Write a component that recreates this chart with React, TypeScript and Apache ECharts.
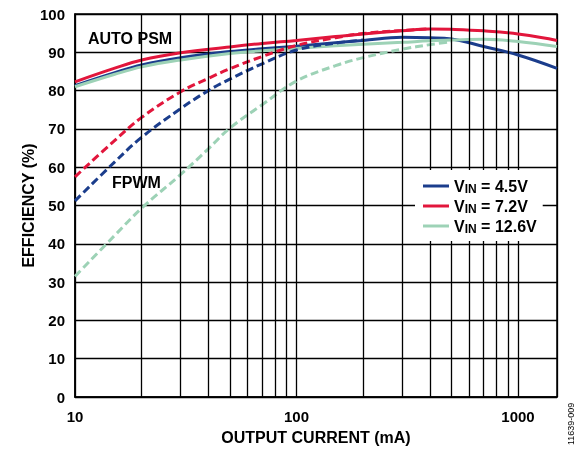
import React, { useEffect, useRef } from "react";
import * as echarts from "echarts";

// Output current (mA) sample points and efficiency (%) values
const psmCurrent = [10, 15, 20, 30, 50, 70, 100, 150, 200, 300, 400, 500, 700, 1000, 1500];
const psm45 = [81.3, 84.6, 86.7, 88.6, 90.2, 90.9, 91.6, 92.5, 93.1, 93.9, 93.8, 93.5, 91.5, 89.3, 85.8];
const psm72 = [82.3, 85.8, 88.0, 89.9, 91.4, 92.3, 93.1, 94.1, 94.8, 95.6, 96.1, 96.0, 95.6, 94.8, 93.1];
const psm126 = [81.0, 84.2, 86.2, 88.0, 89.7, 90.4, 91.0, 91.7, 92.1, 92.6, 93.0, 93.2, 93.4, 92.8, 91.5];

const fpwm45Current = [10, 15, 20, 30, 40, 50, 70, 100, 150, 200];
const fpwm45 = [51.2, 61.2, 67.8, 75.3, 80.0, 83.0, 87.0, 90.6, 92.4, 93.2];
const fpwm72Current = [10, 15, 20, 30, 40, 50, 70, 100, 150, 200, 300, 400];
const fpwm72 = [57.5, 66.8, 73.0, 79.7, 83.2, 85.7, 88.9, 91.8, 93.8, 94.9, 95.7, 96.1];
const fpwm126Current = [10, 15, 20, 30, 40, 50, 70, 100, 150, 200, 300, 400, 500];
const fpwm126 = [31.5, 42.0, 49.3, 58.1, 64.8, 70.2, 76.3, 82.5, 86.5, 88.6, 90.8, 92.0, 92.8];

const minorGrid = [20, 30, 40, 50, 60, 70, 80, 90, 200, 300, 400, 500, 600, 700, 800, 900];
const xTickLabels = [10, 100, 1000];
const vinLabels = ["4.5", "7.2", "12.6"];

const BLUE = "#1b3d8c";
const RED = "#e2163c";
const GREEN = "#9dd2b6";
const FONT = "Arial, 'Liberation Sans', Helvetica, sans-serif";

const pairs = (xs: number[], ys: number[]) => xs.map((x, i) => [x, ys[i]]);

export default function App() {
  const ref = useRef<HTMLDivElement>(null);
  useEffect(() => {
    if (!ref.current) return;
    const chart = echarts.init(ref.current, undefined, { renderer: "svg" });
    const names = vinLabels.map((v) => `VIN = ${v}V`);
    const solid = (name: string, color: string, ys: number[]) => ({
      name,
      type: "line",
      data: pairs(psmCurrent, ys),
      smooth: 0.4,
      showSymbol: false,
      symbol: "none",
      z: 3,
      lineStyle: { color, width: 3 },
      itemStyle: { color },
    });
    const dashed = (name: string, color: string, xs: number[], ys: number[]) => ({
      name,
      type: "line",
      data: pairs(xs, ys),
      smooth: 0.4,
      showSymbol: false,
      symbol: "none",
      z: 3,
      lineStyle: { color, width: 3, type: [8, 4] },
      itemStyle: { color },
    });
    chart.setOption({
      animation: false,
      grid: {
        left: 75,
        top: 14,
        right: 23,
        bottom: 56,
        show: true,
        borderColor: "#000",
        borderWidth: 1.5,
        backgroundColor: "transparent",
      },
      xAxis: {
        type: "log",
        logBase: 10,
        min: 10,
        max: 1500,
        name: "OUTPUT CURRENT (mA)",
        nameLocation: "middle",
        nameGap: 32,
        nameTextStyle: { fontFamily: FONT, fontWeight: "bold", fontSize: 16, color: "#000" },
        axisLine: { lineStyle: { color: "#000", width: 1.5 } },
        axisTick: { show: false },
        splitLine: { show: true, lineStyle: { color: "#000", width: 1.3 } },
        axisLabel: {
          margin: 12,
          fontFamily: FONT,
          fontWeight: "bold",
          fontSize: 15,
          color: "#000",
          showMaxLabel: false,
          formatter: (v: number) => {
            const r = Math.round(v);
            return xTickLabels.includes(r) ? String(r) : "";
          },
        },
      },
      yAxis: {
        type: "value",
        min: 0,
        max: 100,
        interval: 10,
        name: "EFFICIENCY (%)",
        nameLocation: "middle",
        nameGap: 39,
        nameMoveOverlap: false,
        nameTextStyle: { fontFamily: FONT, fontWeight: "bold", fontSize: 16, color: "#000" },
        axisLine: { show: true, lineStyle: { color: "#000", width: 1.5 } },
        axisTick: { show: false },
        splitLine: { show: true, lineStyle: { color: "#000", width: 1.3 } },
        axisLabel: { margin: 10, fontFamily: FONT, fontWeight: "bold", fontSize: 15, color: "#000" },
      },
      legend: {
        data: names,
        orient: "vertical",
        left: 415,
        top: 170,
        padding: [7, 6, 6, 8],
        itemGap: 2,
        itemWidth: 26,
        itemHeight: 3,
        icon: "rect",
        backgroundColor: "#fff",
        z: 10,
        formatter: (name: string) => {
          const v = name.replace("VIN = ", "");
          return `{v|V}{s|IN}{v| = ${v}}`;
        },
        textStyle: {
          color: "#000",
          fontFamily: FONT,
          fontWeight: "bold",
          fontSize: 16,
          rich: {
            v: { fontFamily: FONT, fontWeight: "bold", fontSize: 16, color: "#000", lineHeight: 18 },
            s: {
              fontFamily: FONT,
              fontWeight: "bold",
              fontSize: 12,
              color: "#000",
              verticalAlign: "bottom",
              padding: [6, 0, 0, 0],
              lineHeight: 18,
            },
          },
        },
      },
      graphic: [
        {
          type: "text",
          left: 88,
          top: 30,
          style: { text: "AUTO PSM", fontFamily: FONT, fontWeight: "bold", fontSize: 16, fill: "#000" },
          z: 20,
        },
        {
          type: "text",
          left: 112,
          top: 174,
          style: { text: "FPWM", fontFamily: FONT, fontWeight: "bold", fontSize: 16, fill: "#000" },
          z: 20,
        },
        {
          type: "text",
          x: 575,
          y: 445,
          rotation: Math.PI / 2,
          style: { text: "11639-009", fontFamily: FONT, fontSize: 9, fill: "#000", align: "left", verticalAlign: "bottom" },
        },
      ],
      series: [
        {
          name: "grid",
          type: "line",
          data: [],
          z: 1,
          silent: true,
          markLine: {
            silent: true,
            symbol: "none",
            label: { show: false },
            lineStyle: { color: "#000", type: "solid", width: 1.3 },
            data: minorGrid.map((v) => ({ xAxis: v })),
          },
        },
        solid(names[0], BLUE, psm45),
        solid(names[1], RED, psm72),
        solid(names[2], GREEN, psm126),
        dashed("f45", BLUE, fpwm45Current, fpwm45),
        dashed("f72", RED, fpwm72Current, fpwm72),
        dashed("f126", GREEN, fpwm126Current, fpwm126),
      ],
    });
    return () => chart.dispose();
  }, []);
  return <div ref={ref} style={{ position: "fixed", left: 0, top: 0, width: 580, height: 453 }} />;
}
